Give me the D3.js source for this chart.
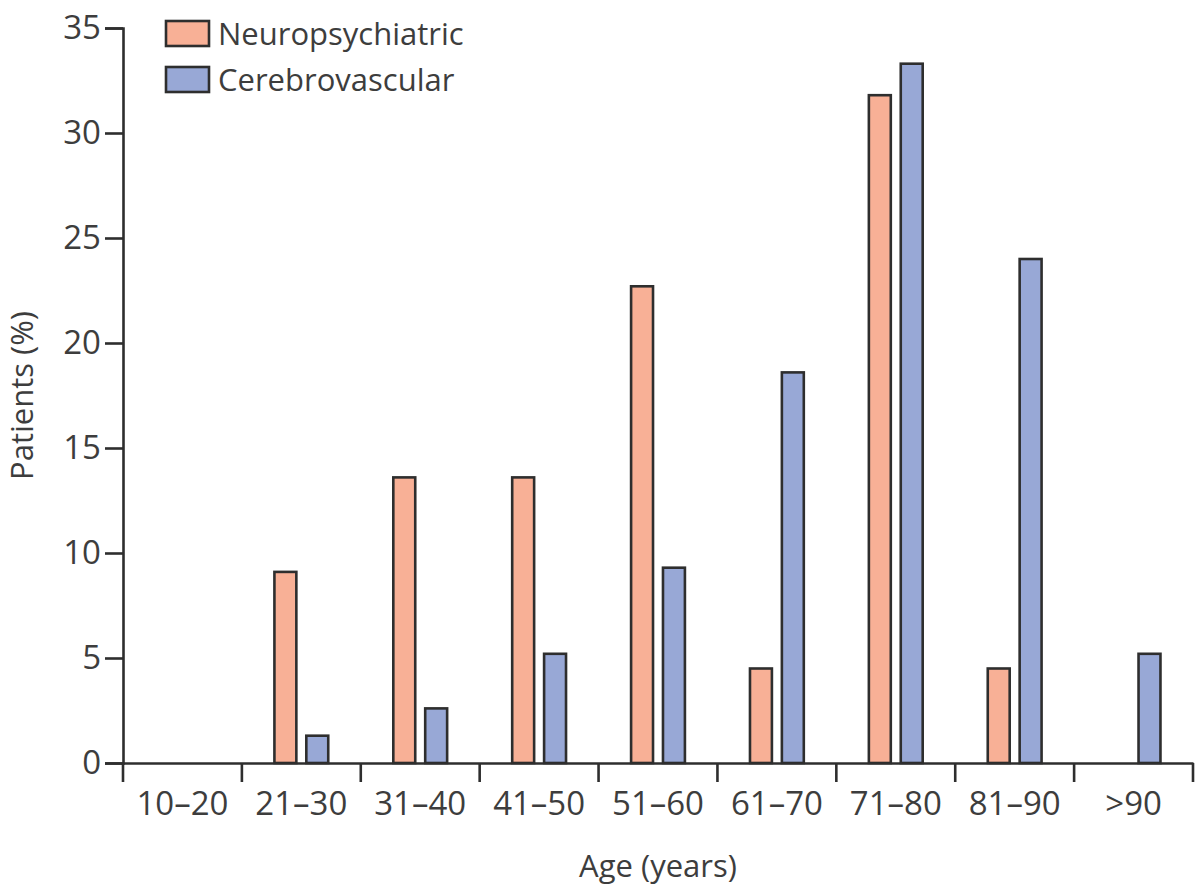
<!DOCTYPE html>
<html>
<head>
<meta charset="utf-8">
<script src="https://cdn.jsdelivr.net/npm/d3@7"></script>
<style>
  html, body { margin: 0; padding: 0; background: #fff; }
  svg { display: block; }
  text { font-family: "Open Sans", "Noto Sans", sans-serif; fill: #3d3d3d; }
</style>
</head>
<body>
<svg id="chart" width="1195" height="887"></svg>
<script>
// Age groups and share of patients (%) per group
const ageGroups = ["10–20", "21–30", "31–40", "41–50", "51–60", "61–70", "71–80", "81–90", ">90"];
const seriesNames = ["Neuropsychiatric", "Cerebrovascular"];
const neuropsychiatric = [0, 9.1, 13.6, 13.6, 22.7, 4.5, 31.8, 4.5, 0];
const cerebrovascular = [0, 1.3, 2.6, 5.2, 9.3, 18.6, 33.3, 24.0, 5.2];
const yTicks = [0, 5, 10, 15, 20, 25, 30, 35];

const colors = { "Neuropsychiatric": "#f8b096", "Cerebrovascular": "#98a8d6" };
const ink = "#2e2e2e";

const svg = d3.select("#chart");
const margin = { left: 123, right: 2, top: 28, bottom: 124 };
const W = 1195, H = 887;

const x0 = d3.scaleBand().domain(ageGroups)
  .range([margin.left, W - margin.right]).padding(0);
const x1 = d3.scaleBand().domain(seriesNames)
  .range([0, x0.bandwidth()]).paddingInner(0.3125).paddingOuter(1.02);
const y = d3.scaleLinear().domain([0, 35]).range([H - margin.bottom, margin.top]);

const rows = ageGroups.map((g, i) => ({
  group: g,
  values: [
    { key: "Neuropsychiatric", value: neuropsychiatric[i] },
    { key: "Cerebrovascular", value: cerebrovascular[i] }
  ]
}));

// bars
svg.append("g").selectAll("g").data(rows).join("g")
  .attr("transform", d => `translate(${x0(d.group)},0)`)
  .selectAll("rect").data(d => d.values.filter(v => v.value > 0)).join("rect")
  .attr("x", d => x1(d.key))
  .attr("width", x1.bandwidth())
  .attr("y", d => y(d.value))
  .attr("height", d => y(0) - y(d.value))
  .attr("fill", d => colors[d.key])
  .attr("stroke", ink)
  .attr("stroke-width", 2.6);

// y axis
const yAxis = svg.append("g")
  .attr("transform", `translate(${margin.left},0)`)
  .call(d3.axisLeft(y).tickValues(yTicks).tickSize(18).tickPadding(4).tickFormat(d3.format("d")));
yAxis.select(".domain").attr("stroke", ink).attr("stroke-width", 2.6);
yAxis.selectAll(".tick line").attr("stroke", ink).attr("stroke-width", 2.6);
yAxis.selectAll(".tick text").attr("font-size", 33).attr("fill", "#3d3d3d")
  .attr("font-family", null);

// x axis: labels centred in each band, ticks on the band edges
const xAxis = svg.append("g")
  .attr("transform", `translate(0,${y(0)})`)
  .call(d3.axisBottom(x0).tickSize(0).tickPadding(29));
xAxis.select(".domain").attr("stroke", ink).attr("stroke-width", 2.6);
xAxis.selectAll(".tick text").attr("font-size", 33).attr("fill", "#3d3d3d")
  .attr("font-family", null);

const edges = ageGroups.map(g => x0(g)).concat([x0.range()[1]]);
xAxis.selectAll("line.edge").data(edges).join("line")
  .attr("class", "edge")
  .attr("x1", d => d).attr("x2", d => d)
  .attr("y1", 0).attr("y2", 19)
  .attr("stroke", ink).attr("stroke-width", 2.6);

// axis titles
svg.append("text")
  .attr("transform", `translate(33,${(y(0) + y(35)) / 2}) rotate(-90)`)
  .attr("text-anchor", "middle")
  .attr("font-size", 31)
  .text("Patients (%)");

svg.append("text")
  .attr("x", (x0.range()[0] + x0.range()[1]) / 2)
  .attr("y", 877)
  .attr("text-anchor", "middle")
  .attr("font-size", 31)
  .text("Age (years)");

// legend
const legend = svg.append("g").attr("transform", "translate(166,21)");
const li = legend.selectAll("g").data(seriesNames).join("g")
  .attr("transform", (d, i) => `translate(0,${i * 46})`);
li.append("rect")
  .attr("width", 43).attr("height", 25)
  .attr("fill", d => colors[d])
  .attr("stroke", ink).attr("stroke-width", 2.6);
li.append("text")
  .attr("x", 52).attr("y", 13)
  .attr("dy", "0.35em")
  .attr("font-size", 31)
  .text(d => d);
</script>
</body>
</html>
